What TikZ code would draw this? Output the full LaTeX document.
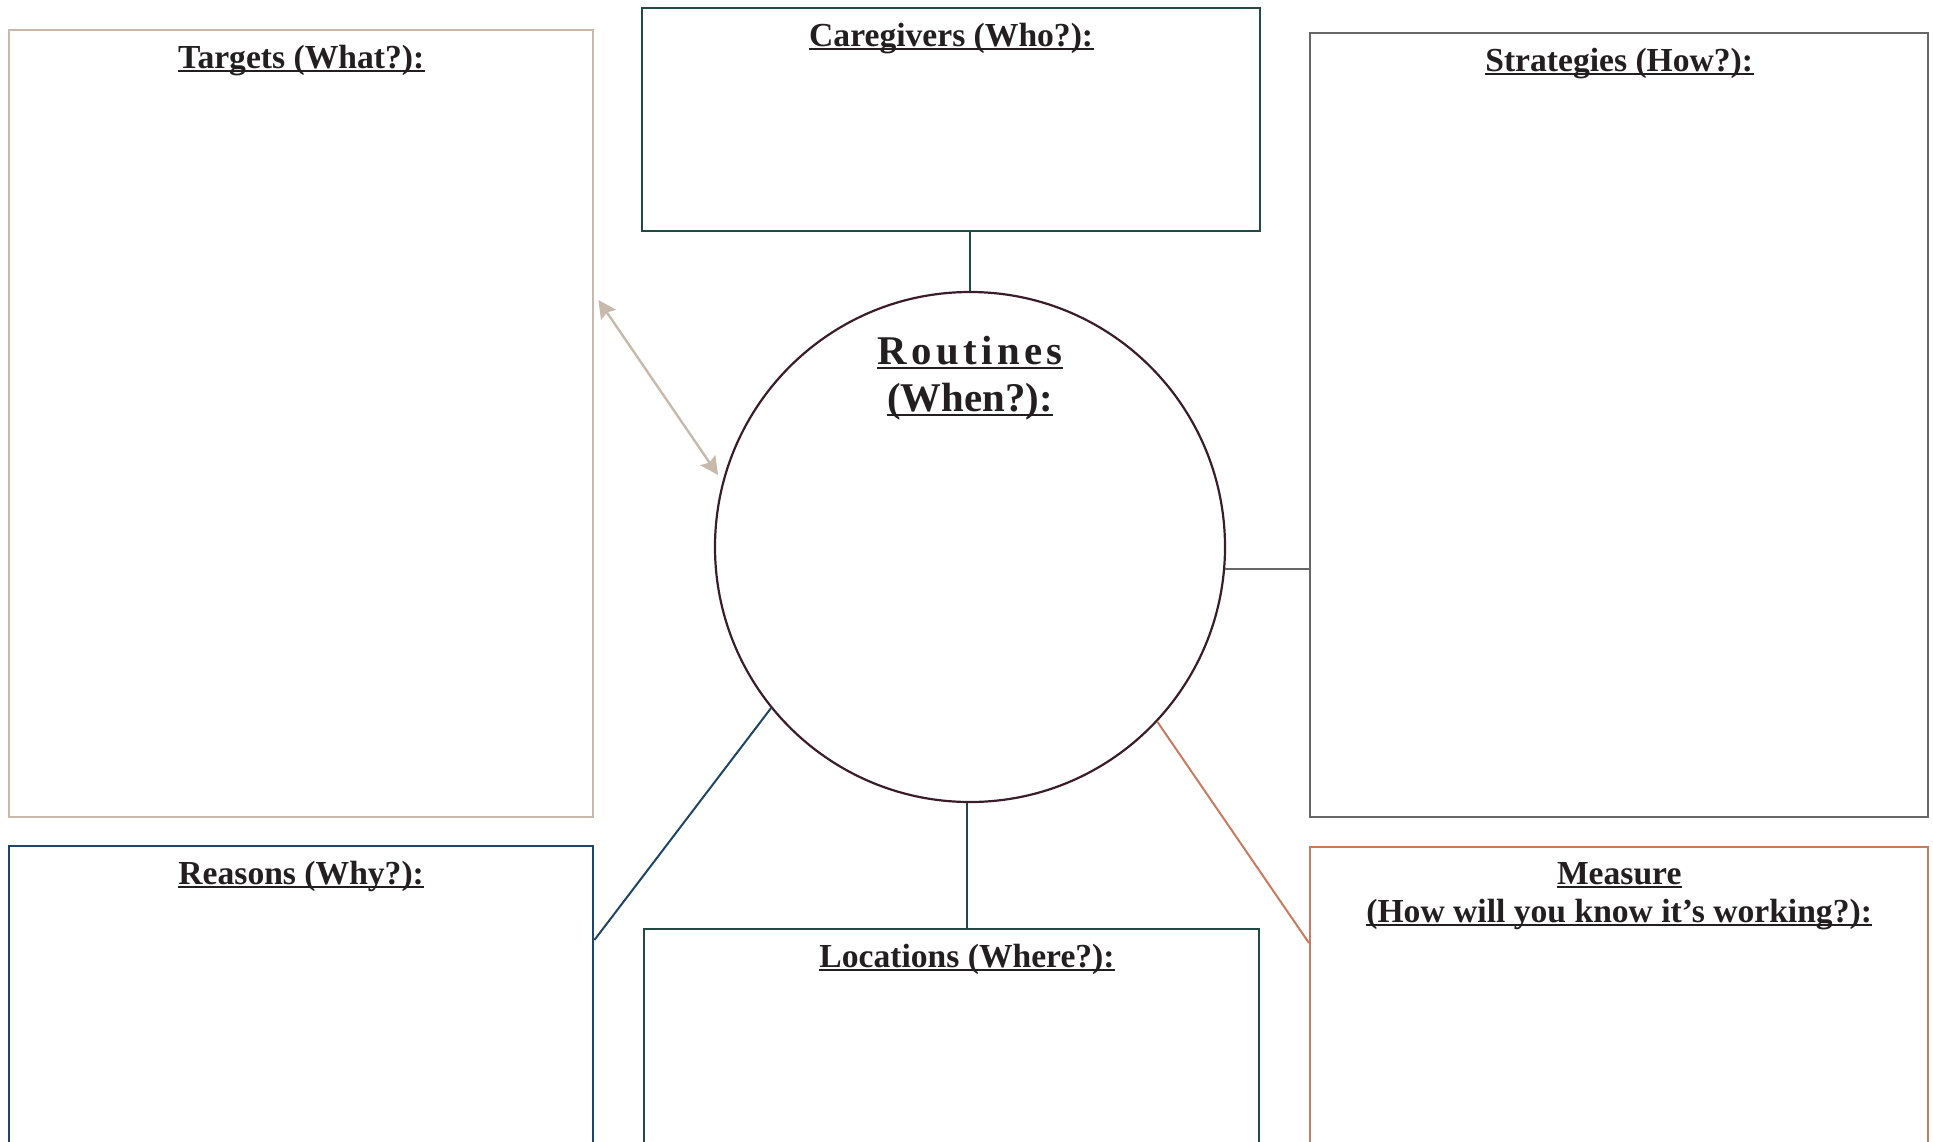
\documentclass[tikz,border=0pt]{standalone}
\usepackage{fontspec}
\setmainfont{Liberation Serif}
\newfontfamily\spacedserif[LetterSpace=11]{Liberation Serif}
\usetikzlibrary{positioning,calc,arrows.meta}
\definecolor{ink}{HTML}{231F20}
\definecolor{tanline}{HTML}{C8B9AD}
\definecolor{tealline}{HTML}{1F4B43}
\definecolor{greyline}{HTML}{666666}
\definecolor{navyline}{HTML}{1F4566}
\definecolor{rustline}{HTML}{C77B5F}
\definecolor{plumline}{HTML}{3A1D2A}

\begin{document}
\begin{tikzpicture}[x=0.5pt,y=-0.5pt,
    panel/.style={draw=#1, line width=1.2pt, inner sep=0pt, anchor=north west},
    title/.style={font=\bfseries\fontsize{16.8}{19}\selectfont, text=ink, inner sep=0pt, anchor=base},
    bigtitle/.style={title, font=\bfseries\fontsize{20.4}{23.5}\selectfont},
    link/.style={draw=#1, line width=1pt},
    underl/.style={draw=ink, line width=0.9pt}]
    \clip (0,0) rectangle (1933,1141);
    % boxes
    \node[panel=tanline, minimum width=292pt, minimum height=393.5pt] (targets) at (8,29) {};
    \node[panel=tealline, minimum width=309pt, minimum height=111.5pt] (caregivers) at (641,7) {};
    \node[panel=greyline, minimum width=309pt, minimum height=392pt] (strategies) at (1309,32) {};
    \node[panel=navyline, minimum width=292pt, minimum height=200pt] (reasons) at (8,845) {};
    \node[panel=tealline, minimum width=307.5pt, minimum height=150pt] (locations) at (643,928) {};
    \node[panel=rustline, minimum width=309pt, minimum height=200pt] (measure) at (1309,846) {};
    \node[circle, draw=plumline, line width=1.1pt, minimum size=255pt, inner sep=0pt] (routines) at (970,547) {};
    \coordinate (routines-s) at ([xshift=-1.5pt]routines.south);
    % titles
    \node[title] (targets-t) at ([yshift=-19.5pt]targets.north) {Targets (What?):};
    \node[title] (caregivers-t) at ([yshift=-19.5pt]caregivers.north) {Caregivers (Who?):};
    \node[title] (strategies-t) at ([yshift=-19.5pt]strategies.north) {Strategies (How?):};
    \node[title] (reasons-t) at ([yshift=-19.5pt]reasons.north) {Reasons (Why?):};
    \node[title] (locations-t) at ([yshift=-19.5pt]routines-s |- locations.north) {Locations (Where?):};
    \node[title] (measure-t) at ([yshift=-19pt]measure.north) {Measure\ };
    \node[title] (measure-u) at ([yshift=-19pt]measure-t.base) {(How will you know it’s working?):};
    \node[bigtitle] (routines-t) at ([yshift=-37pt]routines.north) {\spacedserif Routines};
    \node[bigtitle] (routines-u) at ([yshift=-23.5pt]routines-t.base) {(When?):};
    \foreach \t in {targets-t,caregivers-t,strategies-t,reasons-t,locations-t,measure-t,measure-u,routines-t,routines-u}
        \draw[underl] ([yshift=-1.6pt]\t.base west) -- ([yshift=-1.6pt]\t.base east);
    % connectors
    \draw[link=tealline] (routines.north) -- (routines.north |- caregivers.south);
    \draw[link=greyline] (routines.-5.4) -- (routines.-5.4 -| strategies.west);
    \draw[link=tealline] (routines-s) -- (routines-s |- locations.north);
    \draw[link=navyline] (routines.219.3) -- ([yshift=-47.5pt]reasons.north east);
    \draw[link=rustline] (routines.317.2) -- ([yshift=-48.5pt]measure.north west);
    \draw[link=tanline, line width=1.2pt, {Stealth[length=9pt,width=9pt,inset=1.5pt]}-{Stealth[length=9pt,width=9pt,inset=1.5pt]}] ([shift={(2pt,-135.5pt)}]targets.north east) -- ([shift={(-126pt,36pt)}]routines.center);
\end{tikzpicture}
\end{document}
